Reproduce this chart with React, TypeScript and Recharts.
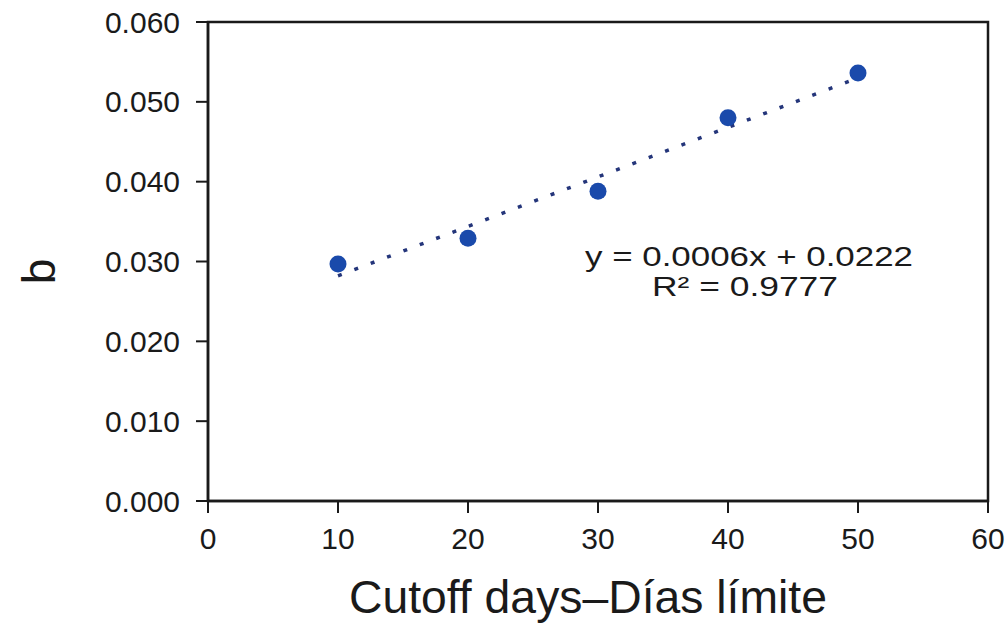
import React from "react";
import {
  ScatterChart,
  Scatter,
  XAxis,
  YAxis,
  ReferenceArea,
} from "recharts";

const cutoffDays = [10, 20, 30, 40, 50];
const bValues = [0.0297, 0.0329, 0.0388, 0.048, 0.0536];
const trendX = [10, 50];
const trendY = [0.0282, 0.053];
const xTicks = [0, 10, 20, 30, 40, 50, 60];
const yTicks = [0, 0.01, 0.02, 0.03, 0.04, 0.05, 0.06];
const equationText = "y = 0.0006x + 0.0222";
const r2Text = "R\u00b2 = 0.9777";
const xTitle = "Cutoff days\u2013D\u00edas l\u00edmite";
const yTitle = "b";

const points = cutoffDays.map((x, i) => ({ x, y: bValues[i] }));
const trend = trendX.map((x, i) => ({ x, y: trendY[i] }));

const FONT = "'Liberation Sans', Arial, Helvetica, sans-serif";
const INK = "#1a1a1a";

const XTitle = (props: any) => {
  const vb = props.viewBox || {};
  const cx = vb.x + vb.width / 2 - 10;
  return (
    <text
      x={cx}
      y={613}
      textAnchor="middle"
      fontSize={46}
      fontFamily={FONT}
      fill={INK}
      textLength={478}
      lengthAdjust="spacingAndGlyphs"
    >
      {xTitle}
    </text>
  );
};

const YTitle = (props: any) => {
  const vb = props.viewBox || {};
  const cy = vb.y + vb.height / 2 + 10;
  const x = 55;
  return (
    <text
      x={x}
      y={cy}
      textAnchor="middle"
      fontSize={46}
      fontFamily={FONT}
      fill={INK}
      transform={`rotate(-90, ${x}, ${cy})`}
    >
      {yTitle}
    </text>
  );
};

const Dot = (props: any) => {
  const { cx, cy } = props;
  return <circle cx={cx} cy={cy} r={8.5} fill="#1a4aab" />;
};

const NoShape = () => null;

export default function App() {
  return (
    <div style={{ position: "absolute", left: 0, top: 0, background: "#fff" }}>
      <ScatterChart
        width={1007}
        height={624}
        margin={{ top: 22, right: 19, bottom: 0, left: 0 }}
      >
        <XAxis
          type="number"
          dataKey="x"
          domain={[0, 60]}
          ticks={xTicks}
          interval={0}
          height={123}
          tickSize={12}
          tickMargin={15}
          axisLine={{ stroke: INK, strokeWidth: 2.5 }}
          tickLine={{ stroke: INK, strokeWidth: 2 }}
          tick={{ fontSize: 30, fontFamily: FONT, fill: INK }}
          label={<XTitle />}
        />
        <YAxis
          type="number"
          dataKey="y"
          domain={[0, 0.06]}
          ticks={yTicks}
          interval={0}
          width={208}
          tickSize={12}
          tickMargin={16}
          tickFormatter={(v: number) => v.toFixed(3)}
          axisLine={{ stroke: INK, strokeWidth: 2.5 }}
          tickLine={{ stroke: INK, strokeWidth: 2 }}
          tick={{ fontSize: 30, fontFamily: FONT, fill: INK }}
          label={<YTitle />}
        />
        <ReferenceArea
          x1={0}
          x2={60}
          y1={0}
          y2={0.06}
          fill="none"
          fillOpacity={0}
          stroke={INK}
          strokeWidth={2.5}
        />
        <Scatter
          data={trend}
          shape={NoShape}
          line={{ stroke: "#24357a", strokeWidth: 3.5, strokeDasharray: "4 13.5" }}
          isAnimationActive={false}
        />
        <Scatter data={points} shape={Dot} isAnimationActive={false} />
        <text
          x={749}
          y={266}
          textAnchor="middle"
          fontSize={28}
          fontFamily={FONT}
          fill={INK}
          textLength={328}
          lengthAdjust="spacingAndGlyphs"
        >
          {equationText}
        </text>
        <text
          x={745}
          y={296}
          textAnchor="middle"
          fontSize={28}
          fontFamily={FONT}
          fill={INK}
          textLength={186}
          lengthAdjust="spacingAndGlyphs"
        >
          {r2Text}
        </text>
      </ScatterChart>
    </div>
  );
}
